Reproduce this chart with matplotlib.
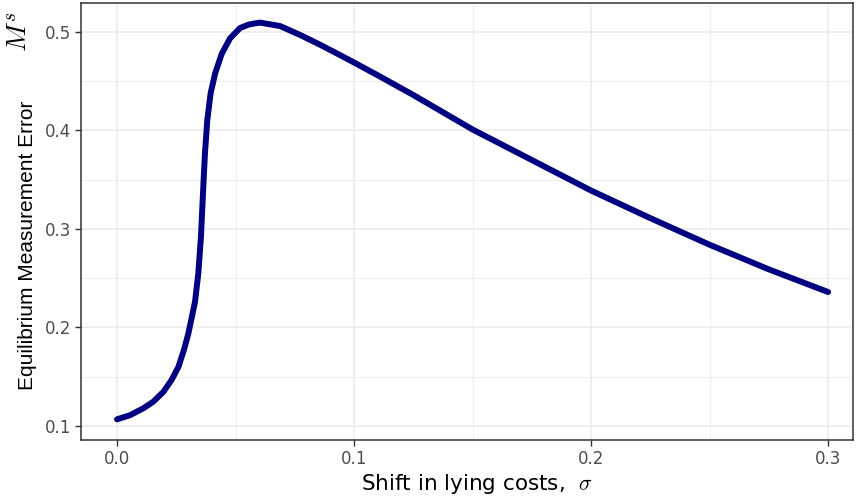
import matplotlib
matplotlib.use('Agg')
import matplotlib.pyplot as plt

# valeurs
sigma = [0.0, 0.0055, 0.0111, 0.0153, 0.0196, 0.023, 0.0259, 0.0282, 0.0301,
         0.0315, 0.0329, 0.0343, 0.0354, 0.0364, 0.0371, 0.0381, 0.0395,
         0.0414, 0.0442, 0.0477, 0.0519, 0.0555, 0.0589, 0.0603, 0.0688,
         0.0772, 0.0857, 0.0941, 0.1, 0.110, 0.125, 0.15, 0.175, 0.2,
         0.225, 0.25, 0.275, 0.3]
ms = [0.1068, 0.111, 0.118, 0.1247, 0.1348, 0.1467, 0.160, 0.177, 0.194,
      0.210, 0.226, 0.255, 0.292, 0.343, 0.377, 0.411, 0.438,
      0.458, 0.478, 0.4936, 0.504, 0.5075, 0.509, 0.5095, 0.506,
      0.497, 0.487, 0.4765, 0.469, 0.456, 0.436, 0.401, 0.370, 0.339,
      0.311, 0.284, 0.259, 0.236]

xticks = [0.0, 0.1, 0.2, 0.3]
xtick_labels = ['0.0', '0.1', '0.2', '0.3']
yticks = [0.1, 0.2, 0.3, 0.4, 0.5]
yminor = [0.15, 0.25, 0.35, 0.45]
xminor = [0.05, 0.15, 0.25]

plt.rcParams['font.family'] = ['DejaVu Sans']
plt.rcParams['mathtext.fontset'] = 'cm'

fig = plt.figure(figsize=(8.56, 4.99), dpi=100)
ax = fig.add_axes([81/856, 59/499, 772/856, 437/499])

ax.plot(sigma, ms, color='#000080', lw=4.3, solid_capstyle='round',
        solid_joinstyle='round', zorder=3)

ax.set_xlim(-0.0152, 0.3105)
ax.set_ylim(0.0858, 0.5294)

ax.set_xticks(xticks)
ax.set_xticklabels(xtick_labels)
ax.set_yticks(yticks)
ax.set_xticks(xminor, minor=True)
ax.set_yticks(yminor, minor=True)

ax.grid(True, which='major', color='#EBEBEB', lw=1.1)
ax.grid(True, which='minor', color='#EBEBEB', lw=0.6)
ax.set_axisbelow(True)

ax.tick_params(which='major', length=4, width=1, color='#333333',
               labelcolor='#4D4D4D', labelsize=12, pad=3)
ax.tick_params(which='minor', length=0)
for s in ax.spines.values():
    s.set_color('#333333')
    s.set_linewidth(1.1)

ax.set_xlabel('Shift in lying costs,  $\\sigma$', fontsize=15.5, labelpad=3,
              x=0.513)

# titre vertical en deux morceaux (le M^s est plus grand)
fig.text(33/856, (499-245.5)/499, 'Equilibrium Measurement Error',
         rotation=90, rotation_mode='anchor', ha='center', va='baseline',
         fontsize=15, family=['Liberation Sans', 'DejaVu Sans'])
fig.text(27/856, (499-31.5)/499, '$M^s$', rotation=90, rotation_mode='anchor',
         ha='center', va='baseline', fontsize=20)

plt.savefig('out.png', dpi=100)
